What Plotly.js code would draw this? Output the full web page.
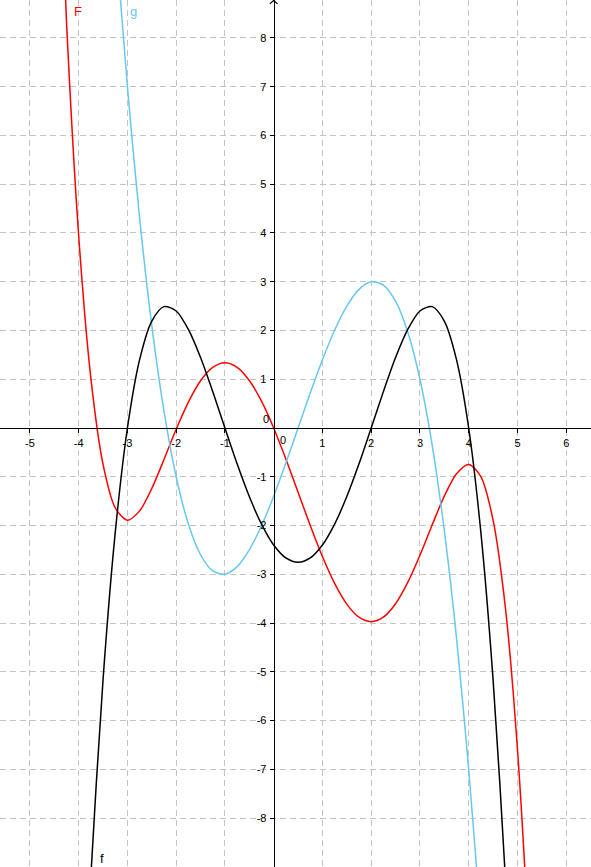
<!DOCTYPE html>
<html>
<head>
<meta charset="utf-8">
<script src="https://cdn.plot.ly/plotly-3.0.1.min.js"></script>
<style>html,body{margin:0;padding:0;background:#fff;}#chart{width:591px;height:867px;}</style>
</head>
<body>
<div id="chart"></div>
<script>
const xF = [-4.5,-4.25,-4,-3.75,-3.5,-3.25,-3,-2.75,-2.5,-2.25,-2,-1.75,-1.5,-1.25,-1,-0.75,-0.5,-0.25,0,0.25,0.5,0.75,1,1.25,1.5,1.75,2,2.25,2.5,2.75,3,3.25,3.5,3.75,4,4.25,4.5,4.75,5,5.25,5.5];
const yF = [14.546,8.336,3.947,1.024,-0.747,-1.640,-1.890,-1.700,-1.240,-0.646,-0.027,0.531,0.968,1.243,1.337,1.244,0.975,0.550,0,-0.637,-1.318,-2.000,-2.637,-3.187,-3.612,-3.881,-3.973,-3.880,-3.605,-3.168,-2.610,-1.991,-1.397,-0.937,-0.747,-0.997,-1.890,-3.661,-6.584,-10.973,-17.18];

const xf = [-4,-3.75,-3.5,-3.25,-3,-2.75,-2.5,-2.25,-2,-1.75,-1.5,-1.25,-1,-0.75,-0.5,-0.25,0,0.25,0.5,0.75,1,1.25,1.5,1.75,2,2.25,2.5,2.75,3,3.25,3.5,3.75,4,4.25,4.5,4.75,5];
const yf = [-14.4,-9.191,-5.156,-2.141,0,1.403,2.194,2.490,2.4,2.021,1.444,0.746,0,-0.735,-1.406,-1.972,-2.4,-2.666,-2.756,-2.666,-2.4,-1.972,-1.406,-0.735,0,0.746,1.444,2.021,2.4,2.490,2.194,1.403,0,-2.141,-5.156,-9.191,-14.4];

const xg = [-3.5,-3.25,-3,-2.75,-2.5,-2.25,-2,-1.75,-1.5,-1.25,-1,-0.75,-0.5,-0.25,0,0.25,0.5,0.75,1,1.25,1.5,1.75,2,2.25,2.5,2.75,3,3.25,3.5,3.75,4,4.25,4.5];
const yg = [14.0,10.219,7.0,4.306,2.1,0.344,-1.0,-1.969,-2.6,-2.931,-3,-2.844,-2.5,-2.006,-1.4,-0.719,0,0.719,1.4,2.006,2.5,2.844,3,2.931,2.6,1.969,1.0,-0.344,-2.1,-4.306,-7.0,-10.219,-14.0];

const xTickVals = [-5,-4,-3,-2,-1,1,2,3,4,5,6];
const xTickText = ["-5","-4","-3","-2","-1","1","2","3","4","5","6"];
const yTickVals = [-8,-7,-6,-5,-4,-3,-2,-1,1,2,3,4,5,6,7,8];
const yTickText = ["-8","-7","-6","-5","-4","-3","-2","-1","1","2","3","4","5","6","7","8"];
const curveNames = ["F","f","g"];

const xr = [-5.614, 6.509];
const yr = [-9.005, 8.779];
const xAxisPos = (0 - yr[0]) / (yr[1] - yr[0]);
const yAxisPos = (0 - xr[0]) / (xr[1] - xr[0]);

const lab = {family: "Liberation Sans, Arial, sans-serif", size: 11, color: "#000"};
const nameFont = (c) => ({family: "Liberation Sans, Arial, sans-serif", size: 13, color: c});

const traces = [
  {x: xF, y: yF, mode: "lines", line: {color: "#ff0000", width: 1.5, shape: "spline", smoothing: 0.8}, hoverinfo: "skip", name: curveNames[0]},
  {x: xg, y: yg, mode: "lines", line: {color: "#66c8f0", width: 1.5, shape: "spline", smoothing: 0.8}, hoverinfo: "skip", name: curveNames[2]},
  {x: xf, y: yf, mode: "lines", line: {color: "#000000", width: 1.5, shape: "spline", smoothing: 0.8}, hoverinfo: "skip", name: curveNames[1]}
];

const layout = {
  width: 591, height: 867,
  margin: {l: 0, r: 0, t: 0, b: 0, pad: 0},
  paper_bgcolor: "#fff", plot_bgcolor: "#fff",
  showlegend: false,
  xaxis: {
    range: xr, anchor: "free", position: xAxisPos,
    tickmode: "array", tickvals: xTickVals, ticktext: xTickText,
    showgrid: true, gridcolor: "#c4c4c4", gridwidth: 1, griddash: "6px,4px",
    zeroline: false, showline: true, linecolor: "#000", linewidth: 1.2,
    ticks: "outside", ticklen: 4, tickcolor: "#000", tickwidth: 1,
    tickfont: lab, ticklabelstandoff: 1
  },
  yaxis: {
    range: yr, anchor: "free", position: yAxisPos,
    tickmode: "array", tickvals: yTickVals, ticktext: yTickText,
    showgrid: true, gridcolor: "#c4c4c4", gridwidth: 1, griddash: "6px,4px",
    zeroline: false, showline: true, linecolor: "#000", linewidth: 1.2,
    ticks: "outside", ticklen: 4, tickcolor: "#000", tickwidth: 1,
    tickfont: lab, ticklabelstandoff: 1
  },
  shapes: [
    {type: "path", xref: "x", yref: "paper", path: "M -0.08 0.9955 L 0 0.9995 L 0.08 0.9955", line: {color: "#000", width: 1.2}}
  ],
  annotations: [
    {x: 0, y: 0, xref: "x", yref: "y", text: "0", showarrow: false, xanchor: "right", yanchor: "bottom", xshift: -3, yshift: 1, font: lab},
    {x: 0, y: 0, xref: "x", yref: "y", text: "0", showarrow: false, xanchor: "left", yanchor: "top", xshift: 4, yshift: -4, font: lab},
    {x: 78, y: 11, xref: "paper", yref: "paper", text: curveNames[0], showarrow: false, xanchor: "center", yanchor: "middle", font: nameFont("#ff0000")},
    {x: 133, y: 12, xref: "paper", yref: "paper", text: curveNames[2], showarrow: false, xanchor: "center", yanchor: "middle", font: nameFont("#66c8f0")},
    {x: 102, y: 858, xref: "paper", yref: "paper", text: curveNames[1], showarrow: false, xanchor: "center", yanchor: "middle", font: nameFont("#000")}
  ]
};
// convert pixel-placed labels (from top-left) to paper fractions
layout.annotations.forEach(a => {
  if (a.xref === "paper") { a.x = a.x / 591; a.y = 1 - a.y / 867; }
});

Plotly.newPlot("chart", traces, layout, {staticPlot: true, displayModeBar: false});
</script>
</body>
</html>
